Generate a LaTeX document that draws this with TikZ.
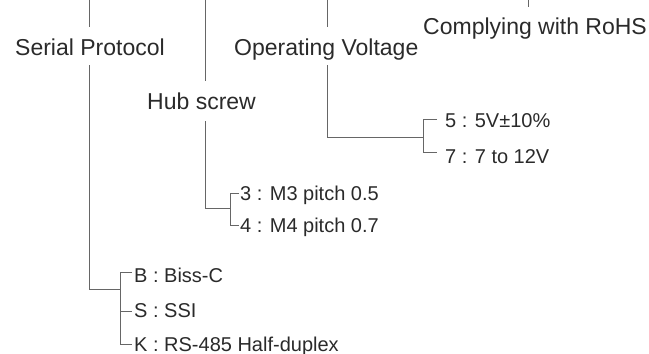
\documentclass[tikz,border=0pt]{standalone}
\usepackage{fontspec}
\setmainfont{Liberation Sans}
\definecolor{txt}{HTML}{2A2A2A}
\definecolor{ln}{HTML}{666666}
\begin{document}
\begin{tikzpicture}[x=1pt,y=-1pt,
  big/.style={font=\fontsize{23}{23}\selectfont,text=txt,anchor=base west,inner sep=0pt},
  small/.style={font=\fontsize{20}{20}\selectfont,text=txt,anchor=base west,inner sep=0pt},
  wire/.style={draw=ln,line width=1pt}]
\useasboundingbox (0,0) rectangle (649,354);
% labels
\node[big] (sp) at (15,55) {Serial Protocol};
\node[big] (ov) at (234,55) {Operating Voltage};
\node[big] (hs) at (147,109) {Hub screw};
\node[big] (rh) at (423,34) {Complying with RoHS};
\node[small] (v5) at (445,127) {5 : 5V±10\%};
\node[small] (v7) at (445,163) {7 : 7 to 12V};
\node[small] (m3) at (240,200) {3 : M3 pitch 0.5};
\node[small] (m4) at (240,232) {4 : M4 pitch 0.7};
\node[small] (pb) at (134,282) {B : Biss-C};
\node[small] (ps) at (134,317) {S : SSI};
\node[small] (pk) at (134,351) {K : RS-485 Half-duplex};
% coordinates
\coordinate (spT) at (89,0);   \coordinate (spA) at (89,27);
\coordinate (spB) at (89,65);  \coordinate (spC) at (89,289);
\coordinate (spX) at (120,289);
\coordinate (pbL) at (120,272); \coordinate (pbR) at (132,272);
\coordinate (psL) at (120,311); \coordinate (psR) at (132,311);
\coordinate (pkL) at (120,344); \coordinate (pkR) at (132,344);
\coordinate (hsT) at (205,0);  \coordinate (hsA) at (205,81);
\coordinate (hsB) at (205,121); \coordinate (hsC) at (205,208);
\coordinate (hsX) at (230,208);
\coordinate (m3L) at (230,193); \coordinate (m3R) at (239,193);
\coordinate (m4L) at (230,225); \coordinate (m4R) at (239,225);
\coordinate (ovT) at (327,0);  \coordinate (ovA) at (327,27);
\coordinate (ovB) at (327,65); \coordinate (ovC) at (327,137);
\coordinate (ovX) at (423,137);
\coordinate (v5L) at (423,119); \coordinate (v5R) at (437,119);
\coordinate (v7L) at (423,152); \coordinate (v7R) at (437,152);
\coordinate (rhT) at (528,0);  \coordinate (rhA) at (528,7);
% top stubs
\draw[wire] (spT) -- (spA);
\draw[wire] (hsT) -- (hsA);
\draw[wire] (ovT) -- (ovA);
\draw[wire] (rhT) -- (rhA);
% serial protocol tree
\draw[wire] (spB) -- (spC) -- (spX);
\draw[wire] (pbR) -- (pbL) -- (pkL) -- (pkR);
\draw[wire] (psL) -- (psR);
% hub screw tree
\draw[wire] (hsB) -- (hsC) -- (hsX);
\draw[wire] (m3R) -- (m3L) -- (m4L) -- (m4R);
% voltage tree
\draw[wire] (ovB) -- (ovC) -- (ovX);
\draw[wire] (v5R) -- (v5L) -- (v7L) -- (v7R);
\end{tikzpicture}
\end{document}
